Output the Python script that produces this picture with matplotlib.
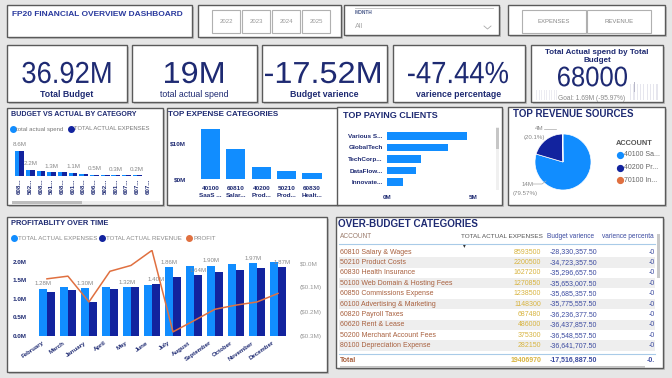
import numpy as np
import matplotlib
matplotlib.use('Agg')
import matplotlib.pyplot as plt
from matplotlib.patches import Rectangle, PathPatch
from matplotlib.lines import Line2D
from matplotlib.textpath import TextPath
from matplotlib.font_manager import FontProperties
from matplotlib.transforms import Affine2D

W, H = 672, 378

# ---------------- data ----------------
years = ['2022', '2023', '2024', '2025']
kpi_values = ['36.92M', '19M', '-17.52M', '-47.44%']
kpi_labels = ['Total Budget', 'total actual spend', 'Budget varience', 'varience percentage']
gauge_value = '68000'
gauge_goal = 'Goal: 1.69M (-95.97%)'

bva_codes = ['608...', '502...', '608...', '501...', '608...', '601...', '608...',
             '606...', '502...', '801...', '607...', '607...', '607...']
bva_spend = [8.59, 2.20, 1.63, 1.27, 1.24, 1.15, 0.69, 0.49, 0.38, 0.28, 0.24, 0.20, 0.15]
bva_expenses = [8.59, 2.20, 1.63, 1.27, 1.24, 1.15, 0.69, 0.49, 0.38, 0.28, 0.24, 0.20, 0.15]
bva_shown = [0, 1, 3, 5, 7, 9, 11]

exp_cats = ['40100\nSaaS ...', '60810\nSalar...', '40200\nProd...', '50210\nProd...', '60830\nHealt...']
exp_vals = [14.3, 8.6, 3.5, 2.2, 1.6]

clients = ['Various S...', 'GlobalTech', 'TechCorp...', 'DataFlow...', 'Innovate...']
client_vals = [4.65, 3.55, 1.98, 1.69, 0.93]

rev_accounts = ['40100 Sa...', '40200 Pr...', '70100 In...']
rev_vals = [14.0, 3.536, 0.058]

months = ['February', 'March', 'January', 'April', 'May', 'June', 'July',
          'August', 'September', 'October', 'November', 'December']
month_exp = [1.28, 1.31, 1.30, 1.31, 1.32, 1.38, 1.86, 1.88, 1.90, 1.93, 1.97, 1.99]
month_rev = [1.20, 1.25, 0.93, 1.27, 1.33, 1.40, 1.58, 1.64, 1.72, 1.78, 1.84, 1.87]
month_profit = [-0.065, -0.054, -0.16, -0.034, -0.01, 0.052, -0.283, -0.237, -0.19, -0.173, -0.16, -0.125]
exp_shown = [0, 2, 4, 6, 8, 10]
rev_shown = [5, 7, 11]

tbl_accounts = ['60810 Salary & Wages', '50210 Product Costs', '60830 Health Insurance',
                '50100 Web Domain & Hosting Fees', '60850 Commissions Expense',
                '60100 Advertising & Marketing', '60820 Payroll Taxes', '60620 Rent & Lease',
                '50200 Merchant Account Fees', '80100 Depreciation Expense']
tbl_expenses = [8593500, 2200500, 1627200, 1270850, 1238500, 1148300, 687480, 486000, 375300, 282150]
tbl_variance = [-28330357.50, -34723357.50, -35296657.50, -35653007.50, -35685357.50,
                -35775557.50, -36236377.50, -36437857.50, -36548557.50, -36641707.50]
tbl_total_exp = 19406970
tbl_total_var = -17516887.50

# ---------------- style ----------------
BLUE = '#118DFF'
NAVY = '#12239E'
ORANGE = '#E07040'
TITLE = '#1e2a72'

plt.rcParams['font.family'] = ['Liberation Sans', 'DejaVu Sans']

fig = plt.figure(figsize=(6.72, 3.78), dpi=100)
fig.patch.set_facecolor('#e6e6e6')
PX = Affine2D().scale(1 / W, 1 / H) + fig.transFigure


def fx(x):
    return x / W


def fy(y):
    return 1 - y / H


def axes_px(x0, y0, x1, y1):
    a = fig.add_axes([x0 / W, 1 - y1 / H, (x1 - x0) / W, (y1 - y0) / H])
    a.set_facecolor('none')
    return a


def rect(x0, y0, x1, y1, fc, ec='none', lw=0, z=-5):
    fig.add_artist(Rectangle((fx(x0), fy(y1)), (x1 - x0) / W, (y1 - y0) / H,
                             transform=fig.transFigure, fc=fc, ec=ec, lw=lw, zorder=z))


def card(x0, y0, x1, y1):
    rect(x0 + 2, y0 + 2, x1 + 2, y1 + 2, '#c0c0c0', z=-7)
    rect(x0, y0, x1, y1, 'white', '#5a5a5a', 1.0, z=-6)


def txt(x, y, s, **kw):
    kw.setdefault('va', 'center')
    fig.text(fx(x), fy(y), s, **kw)


def line(xs, ys, c='#aaaaaa', lw=0.5):
    fig.add_artist(Line2D([fx(v) for v in xs], [fy(v) for v in ys], color=c, lw=lw,
                          transform=fig.transFigure))


def dot(x, y, c, ms=4.5):
    fig.add_artist(Line2D([fx(x)], [fy(y)], marker='o', ms=ms, color=c, mec=c,
                          transform=fig.transFigure))


def block_text(cx, cy, s, w, h, color):
    # condensed display font: squeeze a text path into a w x h pixel box
    p = TextPath((0, 0), s, size=40, prop=FontProperties(family='Liberation Sans'))
    e = p.get_extents()
    t = (Affine2D().translate(-(e.x0 + e.x1) / 2, -(e.y0 + e.y1) / 2)
         .scale(w / e.width, h / e.height).translate(cx, H - cy))
    fig.add_artist(PathPatch(p, transform=t + PX, fc=color, ec='none', lw=0))


def clean(a):
    for s in a.spines.values():
        s.set_visible(False)
    a.tick_params(length=0)


# ---------------- top row ----------------
card(7, 5, 192, 37)
txt(12, 15, 'FP20 FINANCIAL OVERVIEW DASHBOARD', fontsize=6.0, fontweight='bold', color='#2a3a9e')

card(198, 5, 341, 37)
for i, y in enumerate(years):
    x0 = 212 + i * 30
    rect(x0, 10, x0 + 28, 33, 'white', '#b0b0b0', 0.8, z=-4)
    txt(x0 + 14, 21.5, y, fontsize=4.3, color='#999999', ha='center')

card(344, 5, 499, 35)
line([355, 493], [8, 8], '#bbbbbb', 0.6)
txt(355, 13, 'MONTH', fontsize=3.4, color='#4a5a8a', fontweight='bold')
txt(355, 27, 'All', fontsize=5.3, color='#aaaaaa')
line([484, 487.5, 491], [26, 29, 26], '#aaaaaa', 0.6)

card(508, 5, 665, 35)
for lab, x0, x1 in [('EXPENSES', 522, 586), ('REVENUE', 587, 651)]:
    rect(x0, 10, x1, 33, 'white', '#b0b0b0', 0.8, z=-4)
    txt((x0 + x1) / 2, 21.5, lab, fontsize=4.3, color='#888888', ha='center')

# ---------------- KPI cards ----------------
kpi_boxes = [(7, 127), (132, 257), (262, 387), (393, 525)]
kpi_centers = [66.4, 194, 322.5, 458]
kpi_widths = [88, 58, 115, 100]
for (x0, x1), cx, w, v, lab in zip(kpi_boxes, kpi_centers, kpi_widths, kpi_values, kpi_labels):
    card(x0, 45, x1, 102)
    block_text(cx, 72.5, v, w, 21.5, TITLE)
    wt = 'normal' if lab == 'total actual spend' else 'bold'
    txt((x0 + x1) / 2, 94.5, lab, fontsize=6.3, color=TITLE, ha='center', fontweight=wt)

card(531, 45, 663, 102)
txt(597, 56.5, 'Total Actual spend by Total\nBudget', fontsize=5.8, color=TITLE, ha='center',
    fontweight='bold', linespacing=1.05)
for k in range(9):
    rect(536 + k * 2.5, 90, 537 + k * 2.5, 100, '#ececf2', z=-4)
    rect(630 + k * 3.3, 84, 631.2 + k * 3.3, 100, '#e6e6ee', z=-4)
rect(634, 82, 635, 92, '#b8b8c8', z=-4)
block_text(592.5, 76.5, gauge_value, 69, 20, TITLE)
txt(592, 98, gauge_goal, fontsize=4.8, color='#888888', ha='center')

# ---------------- budget vs actual ----------------
card(7, 108, 163, 205)
txt(11, 114, 'BUDGET VS ACTUAL BY CATEGORY', fontsize=5.1, fontweight='bold', color=TITLE)
dot(12.7, 129, BLUE, 4)
txt(16, 129, 'total actual spend', fontsize=4.3, color='#777777')
dot(71, 129, NAVY, 4)
txt(74, 129, 'TOTAL ACTUAL EXPENSES', fontsize=4.2, color='#777777')

ax = axes_px(12, 140, 158, 176)
xb = np.arange(len(bva_codes))
ax.bar(xb - 0.2, bva_spend, 0.42, color=BLUE)
ax.bar(xb + 0.2, bva_expenses, 0.42, color=NAVY)
for i in bva_shown:
    ax.annotate(f'{bva_spend[i]:.1f}M', (xb[i], bva_spend[i]), xytext=(0, 2.5),
                textcoords='offset points', ha='center', va='bottom', fontsize=4.5, color='#888888')
ax.axhline(0, color='#cccccc', lw=0.5)
ax.set_xlim(-0.7, 12.94)
ax.set_ylim(0, 12.2)
ax.set_yticks([])
ax.set_xticks(xb)
ax.set_xticklabels(bva_codes, rotation=90, fontsize=4.4, fontweight='bold', color=TITLE)
ax.tick_params(axis='x', pad=2)
clean(ax)
rect(12, 201, 160, 203.5, '#eeeeee', z=-4)
rect(12, 201, 82, 203.5, '#bdbdbd', z=-3)

# ---------------- top expense categories ----------------
card(167, 108, 338, 205)
txt(168, 114, 'TOP EXPENSE CATEGORIES', fontsize=5.8, fontweight='bold', color=TITLE)
ax = axes_px(195, 125, 328, 179)
xe = np.arange(len(exp_cats))
ax.bar(xe, exp_vals, 0.75, color=BLUE)
ax.set_xlim(-0.61, 4.63)
ax.set_ylim(0, 15.4)
ax.set_yticks([0, 10])
ax.set_yticklabels(['$0M', '$10M'], fontsize=4.6, fontweight='bold', color=TITLE)
ax.tick_params(axis='y', pad=6.5)
ax.set_xticks(xe)
ax.set_xticklabels(exp_cats, fontsize=4.6, fontweight='bold', color=TITLE, linespacing=1.5)
ax.tick_params(axis='x', pad=5)
clean(ax)

# ---------------- top paying clients ----------------
card(337, 107, 502, 205)
txt(343, 115, 'TOP PAYING CLIENTS', fontsize=6.5, fontweight='bold', color=TITLE)
ax = axes_px(387, 130, 480, 188)
yc = np.arange(len(clients))
ax.barh(yc, client_vals, 0.68, color=BLUE)
ax.set_ylim(4.52, -0.52)
ax.set_xlim(0, 5.4)
ax.set_yticks(yc)
ax.set_yticklabels(clients, fontsize=4.6, fontweight='bold', color=TITLE)
ax.tick_params(axis='y', pad=3)
ax.set_xticks([0, 5])
ax.set_xticklabels(['0M', '5M'], fontsize=4.6, fontweight='bold', color=TITLE)
ax.tick_params(axis='x', pad=5)
clean(ax)
rect(496, 127, 499, 190, '#f0f0f0', z=-4)
rect(496, 128, 499, 149, '#c6c6c6', z=-3)

# ---------------- top revenue sources ----------------
card(508, 107, 665, 205)
txt(513, 114, 'TOP REVENUE SOURCES', fontsize=7.0, fontweight='bold', color=TITLE)
ax = axes_px(535, 134, 591, 190)
ax.pie(rev_vals, colors=[BLUE, NAVY, ORANGE], startangle=90, counterclock=False,
       wedgeprops=dict(linewidth=0.5, edgecolor='white'))
ax.set_xlim(-1, 1)
ax.set_ylim(-1, 1)
txt(539, 128.5, '4M', fontsize=4.4, color='#888888', ha='center')
txt(534, 137.5, '(20.1%)', fontsize=4.4, color='#888888', ha='center')
line([544, 556], [128.5, 128.5])
txt(528, 184, '14M', fontsize=4.4, color='#888888', ha='center')
txt(525, 193.5, '(79.57%)', fontsize=4.4, color='#888888', ha='center')
line([533, 542, 546], [184, 184, 181])
txt(616, 143.5, 'ACCOUNT', fontsize=5.3, fontweight='bold', color='#555555')
for i, (a, c) in enumerate(zip(rev_accounts, [BLUE, NAVY, ORANGE])):
    dot(620, 155 + i * 12.7, c, 4.2)
    txt(624, 155 + i * 12.7, a, fontsize=5.0, color='#666666')

# ---------------- profitability over time ----------------
card(7, 217, 327, 372)
txt(11, 223.5, 'PROFITABLITY OVER TIME', fontsize=5.4, fontweight='bold', color=TITLE)
for x, c, lab in [(14, BLUE, 'TOTAL ACTUAL EXPENSES'), (102, NAVY, 'TOTAL ACTUAL REVENUE'),
                  (189, ORANGE, 'PROFIT')]:
    dot(x, 238, c, 4)
    txt(x + 4, 238, lab, fontsize=4.4, color='#888888')

ax = axes_px(36, 250, 290, 336)
xm = np.arange(len(months))
ax.bar(xm - 0.2, month_exp, 0.4, color=BLUE)
ax.bar(xm + 0.2, month_rev, 0.4, color=NAVY)
for i in exp_shown:
    ax.annotate(f'{month_exp[i]:.2f}M', (xm[i] - 0.2, month_exp[i]), xytext=(0, 1.5),
                textcoords='offset points', ha='center', va='bottom', fontsize=4.4, color='#888888')
for i in rev_shown:
    ax.annotate(f'{month_rev[i]:.2f}M', (xm[i] + 0.2, month_rev[i]), xytext=(0, 1.5),
                textcoords='offset points', ha='center', va='bottom', fontsize=4.4, color='#888888')
ax.set_xlim(-0.52, 11.57)
ax.set_ylim(0, 2.32)
ax.set_yticks([0, 0.5, 1.0, 1.5, 2.0])
ax.set_yticklabels(['0.0M', '0.5M', '1.0M', '1.5M', '2.0M'], fontsize=4.6, fontweight='bold',
                   color=TITLE)
ax.tick_params(axis='y', pad=7)
ax.set_xticks([])
for i, m in enumerate(months):
    ax.text(i - 0.25, -0.05, m, transform=ax.get_xaxis_transform(), rotation=35, ha='right',
            va='top', rotation_mode='anchor', fontsize=4.4, fontweight='bold', color=TITLE)
clean(ax)
ax2 = ax.twinx()
ax2.plot(xm, month_profit, color=ORANGE, lw=1.1)
ax2.set_ylim(-0.3, 0.0535)
ax2.set_yticks([0, -0.1, -0.2, -0.3])
ax2.set_yticklabels(['$0.0M', '($0.1M)', '($0.2M)', '($0.3M)'], fontsize=4.6, color='#999999')
ax2.tick_params(axis='y', pad=7)
clean(ax2)

# ---------------- over-budget table ----------------
card(336, 217, 663, 368)
txt(338, 224, 'OVER-BUDGET CATEGORIES', fontsize=7.1, fontweight='bold', color=TITLE)
hy = 237
txt(340, hy, 'ACCOUNT', fontsize=4.7, color='#9a7a6a')
txt(461, hy, 'TOTAL ACTUAL EXPENSES', fontsize=4.6, color='#555555')
txt(463, 246, '\u25be', fontsize=4, color='#333333', family='DejaVu Sans')
txt(547, hy, 'Budget varience', fontsize=4.7, color='#3b4aa0')
txt(602, hy, 'varience percenta', fontsize=4.7, color='#3b4aa0')
line([339, 655], [244, 244], '#a9cbe8', 0.8)
row_h = 10.4
for i, (a, e, v) in enumerate(zip(tbl_accounts, tbl_expenses, tbl_variance)):
    y = 252 + i * row_h
    if i % 2 == 1:
        rect(339, y - row_h / 2, 655, y + row_h / 2, '#eeeeee', z=-4)
    txt(340, y, a, fontsize=5.0, color='#a8603e')
    txt(541, y, f'{e}', fontsize=5.0, color='#d8b440', ha='right')
    txt(597, y, f'{v:,.2f}', fontsize=5.0, color='#3b4aa0', ha='right')
    txt(655, y, '-0', fontsize=5.0, color='#3b4aa0', ha='right')
line([339, 655], [354, 354], '#a9cbe8', 0.8)
txt(340, 360, 'Total', fontsize=5.0, color='#a8603e', fontweight='bold')
txt(541, 360, f'{tbl_total_exp}', fontsize=5.0, color='#d8b440', ha='right', fontweight='bold')
txt(597, 360, f'{tbl_total_var:,.2f}', fontsize=5.0, color='#3b4aa0', ha='right', fontweight='bold')
txt(655, 360, '-0.', fontsize=5.0, color='#3b4aa0', ha='right', fontweight='bold')
rect(340, 366, 645, 368, '#c4c4c4', z=-3)
rect(657, 234, 660, 278, '#c8c8c8', z=-3)

fig.savefig('out.png', dpi=100, facecolor=fig.get_facecolor())
